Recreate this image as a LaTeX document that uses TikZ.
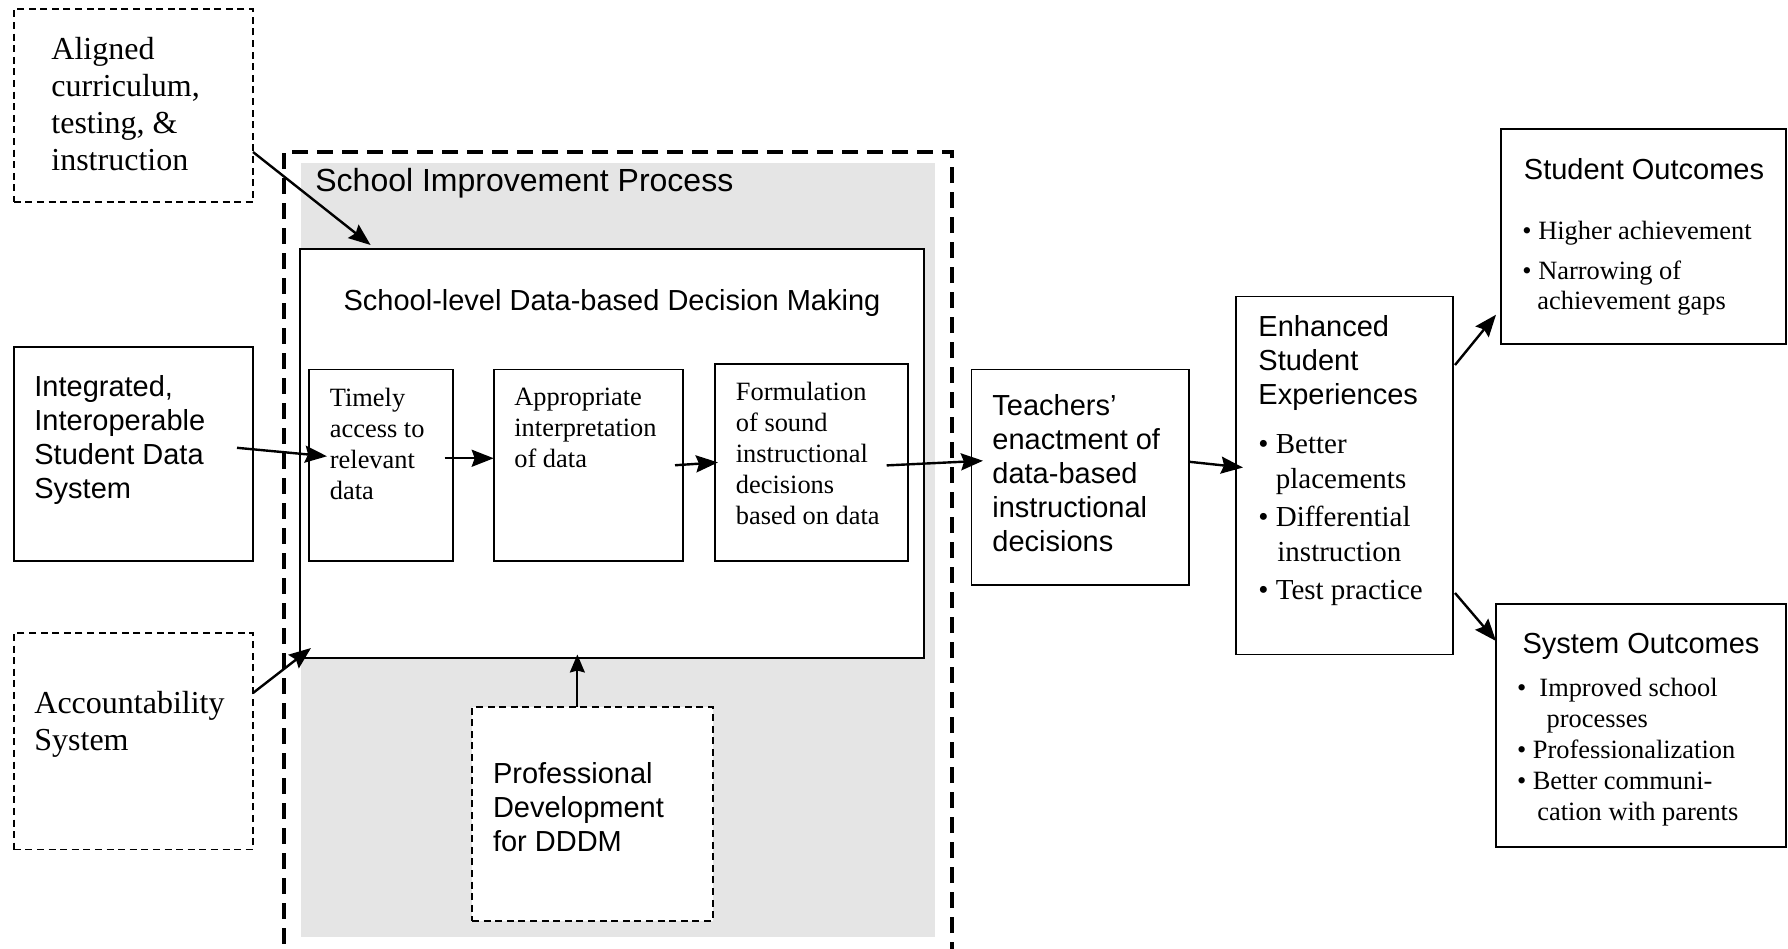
\documentclass[tikz,border=0pt]{standalone}
\usepackage{fontspec}
\setmainfont{Liberation Serif}
\setsansfont{Liberation Sans}
\usetikzlibrary{arrows.meta,fit,calc}
\definecolor{panel}{RGB}{229,229,229}
\tikzset{
  box/.style={draw, line width=0.9pt, inner sep=0pt, outer sep=0pt},
  wbox/.style={box, fill=white},
  dbox/.style={draw, line width=0.85pt, dash pattern=on 3.5pt off 2.3pt, inner sep=0pt, outer sep=0pt},
  sipbox/.style={draw, line width=1.6pt, dash pattern=on 8pt off 4.5pt, inner sep=0pt, outer sep=0pt},
  arr/.style={-{Stealth[length=11pt,width=8.5pt,inset=1.5pt]}, line width=1.2pt},
  arrthin/.style={-{Stealth[length=9pt,width=7.5pt,inset=1pt]}, line width=0.9pt},
  txt/.style={inner sep=0pt, align=left, anchor=north west},
  sansA/.style={txt, font=\sffamily\fontsize{14.5}{17}\selectfont},
  serifL/.style={txt, font=\rmfamily\fontsize{16}{18.5}\selectfont},
  serifM/.style={txt, font=\rmfamily\fontsize{14.5}{17.1}\selectfont},
  serifS/.style={txt, font=\rmfamily\fontsize{13.2}{15.5}\selectfont},
}
\begin{document}
\begin{tikzpicture}[x=0.5pt,y=-0.5pt]
\useasboundingbox (0,0) rectangle (1788,948);

% School improvement process panel
\node[sipbox, fit={(284,152)(952,990)}] (sip) {};
\node[fill=panel, inner sep=0pt, outer sep=0pt, fit={(301,163)(935,937)}] (panel) {};
\node[inner sep=0pt, anchor=west, font=\sffamily\fontsize{16}{19}\selectfont] (sipT) at (315,183.5) {School Improvement Process};

% Data-based decision making
\node[wbox, fit={(300,248.6)(923.6,658)}] (dbdm) {};
\node[inner sep=0pt, font=\sffamily\fontsize{14.5}{17}\selectfont] (dbdmT) at (612,303) {School-level Data-based Decision Making};

\node[box, fit={(309,369.5)(452.7,561)}] (timely) {};
\node[serifS] (timelyT) at (329.5,388) {Timely\\access to\\relevant\\data};
\node[box, fit={(493.7,369.5)(683,561)}] (approp) {};
\node[serifS] (appropT) at (514,388) {Appropriate\\interpretation\\of data};
\node[box, fit={(715,363.8)(907.7,561)}] (formul) {};
\node[serifS] (formulT) at (735.5,382) {Formulation\\of sound\\instructional\\decisions\\based on data};

% Professional development
\node[dbox, fill=white, fit={(472,707)(712.7,921)}] (prof) {};
\node[sansA] (profT) at (492.6,761.6) {Professional\\Development\\for DDDM};

% Inputs on the left
\node[dbox, fit={(13.7,9.1)(253,202)}] (algn) {};
\node[serifL] (algnT) at (51,37) {Aligned\\curriculum,\\testing, \&\\instruction};
\node[box, fit={(13.7,346.6)(253,561)}] (intg) {};
\node[sansA] (intgT) at (34,375) {Integrated,\\Interoperable\\Student Data\\System};
\node[dbox, fit={(13.7,633)(253,849.5)}] (acct) {};
\node[serifL] (acctT) at (34,690.5) {Accountability\\System};

% Teachers and students
\node[box, fit={(971.5,369.5)(1189,585)}] (teach) {};
\node[sansA] (teachT) at (992,394.4) {Teachers’\\enactment of\\data-based\\instructional\\decisions};
\node[box, fit={(1236,296.5)(1452.7,654.5)}] (enh) {};
\node[sansA] (enhT) at (1258,314.6) {Enhanced\\Student\\Experiences};
\node[serifM] (enhB) at (1258,434.5) {\textbullet\ Better\\\hspace*{8.7pt}placements\\[2.3pt]\textbullet\ Differential\\\hspace*{9.5pt}instruction\\[2.3pt]\textbullet\ Test practice};

% Outcomes
\node[box, fit={(1500.6,128.9)(1786,344)}] (sout) {};
\node[inner sep=0pt, font=\sffamily\fontsize{14.5}{17}\selectfont] (soutT) at (1644,168.8) {Student Outcomes};
\node[txt, font=\rmfamily\fontsize{13.2}{14.8}\selectfont] (soutB) at (1522,220.7) {\textbullet\ Higher achievement\\[5.2pt]\textbullet\ Narrowing of\\\hspace*{7.5pt}achievement gaps};
\node[box, fit={(1496,604)(1785.7,847)}] (sysout) {};
\node[inner sep=0pt, font=\sffamily\fontsize{14.5}{17}\selectfont] (sysoutT) at (1641,646.6) {System Outcomes};
\node[serifS] (sysoutB) at (1516.6,678) {\textbullet\ \ Improved school\\\hspace*{14.8pt}processes\\\textbullet\ Professionalization\\\textbullet\ Better communi-\\\hspace*{10.2pt}cation with parents};

% Connectors
\draw[arr] ($(algn.south east)+(0,-50)$) -- ($(dbdm.north west)+(70.6,-3.6)$);
\draw[arr] ($(intg.east)+(-16,-6)$) -- ($(timely.west)+(18,-9)$);
\draw[arr] ($(timely.east)+(-8,-7)$) -- ($(approp.west)+(0,-7)$);
\draw[arr] ($(approp.east)+(-8,0)$) -- ($(formul.west)+(3,0)$);
\draw[arr] ($(formul.east)+(-21,3)$) -- ($(teach.west)+(11.5,-16.5)$);
\draw[arr] ($(teach.east)+(0,-15.5)$) -- ($(enh.west)+(7,-8)$);
\draw[arr] ($(enh.north east)+(2.3,68.5)$) -- ($(sout.south west)+(-4.6,-29.3)$);
\draw[arr] ($(enh.south east)+(2.3,-61.5)$) -- ($(sysout.north west)+(0,37)$);
\draw[arr] ($(acct.north east)+(0,60)$) -- ($(dbdm.south west)+(11,-10)$);
\draw[arrthin] ([xshift=-7.5pt]prof.north) -- ([xshift=-7.5pt,yshift=1.75pt]prof.north |- dbdm.south);
\end{tikzpicture}
\end{document}
